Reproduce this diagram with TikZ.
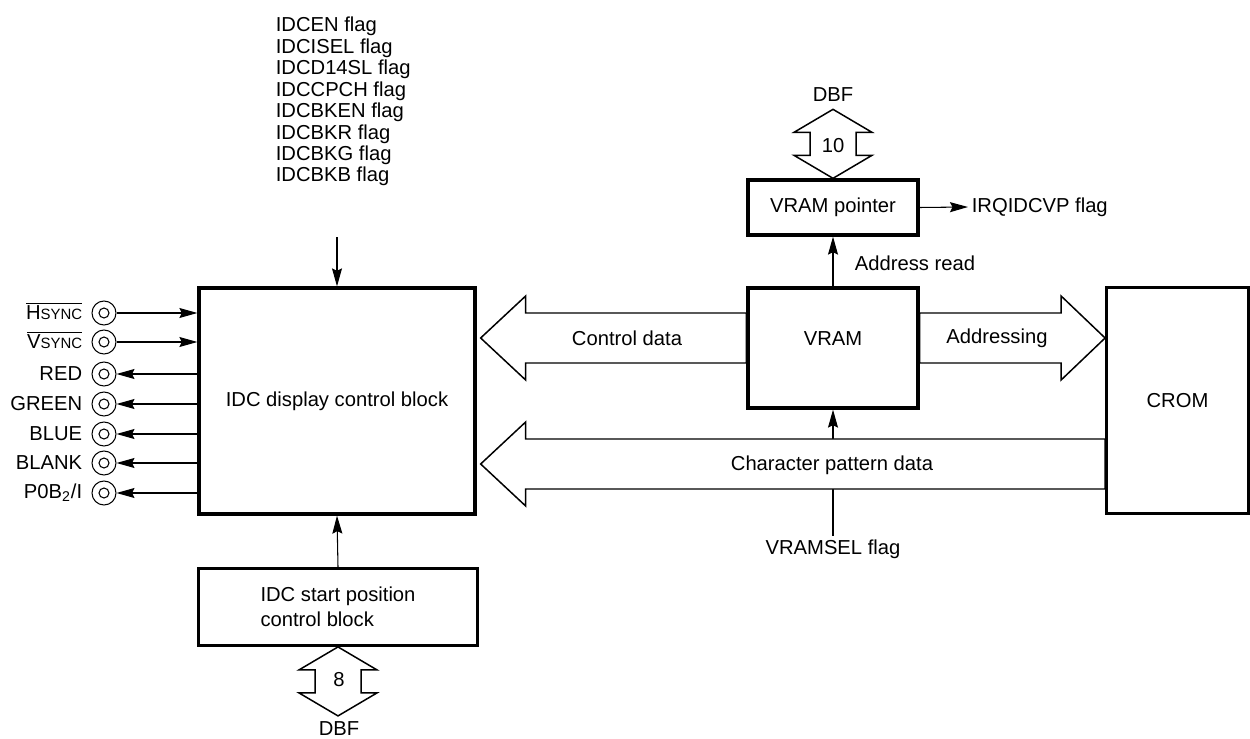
\documentclass[tikz,border=0pt]{standalone}
\usepackage{fontspec}
\setmainfont{Liberation Sans}
\usetikzlibrary{arrows.meta, positioning, calc}

\begin{document}
\begin{tikzpicture}[x=0.02cm, y=-0.02cm,
  blk/.style={rectangle, draw, line width=1.9pt,
    font=\fontsize{11.5pt}{14.2pt}\selectfont, inner sep=0pt},
  txt/.style={font=\fontsize{11.5pt}{12.2pt}\selectfont, inner sep=2pt},
  pin/.style={circle, draw, line width=0.6pt, minimum size=0.48cm, inner sep=0pt},
  arr/.style={-{Stealth[length=0.36cm, width=0.2cm, inset=0.05cm]}, line width=0.6pt},
  bus/.style={draw, fill=white, line width=0.85pt, line join=miter}
]
\useasboundingbox (0,0) rectangle (1250,739);
% blocks
\node[blk, minimum width=5.52cm, minimum height=4.52cm] at (337,401)     (idc)   {IDC display control block};
\node[blk, minimum width=5.58cm, minimum height=1.53cm,
      align=left]                                      at (338,607)     (start) {IDC start position\\control block};
\node[blk, minimum width=3.4cm,  minimum height=1.1cm]  at (833,207.5)   (ptr)   {VRAM pointer};
\node[blk, minimum width=3.4cm,  minimum height=2.4cm]  at (833,348)     (vram)  {};
\node[txt]                                             at (833,339)     (vramtxt) {VRAM};
\node[blk, minimum width=2.83cm, minimum height=4.52cm] at (1177.5,400.3) (crom)  {CROM};
% flags
\node[txt, align=left, anchor=west] at (272,101.7) (flags)
  {IDCEN flag\\IDCISEL flag\\IDCD14SL flag\\IDCCPCH flag\\IDCBKEN flag\\IDCBKR flag\\IDCBKG flag\\IDCBKB flag};
\coordinate (flagin) at ($(idc.north)+(0,-49)$);
\draw[arr] (flagin) -- (idc.north);
% pins
\node[pin] at (104,313) (hs)    {};
\node[pin] at (104,342) (vs)    {};
\node[pin] at (104,374) (red)   {};
\node[pin] at (104,404) (green) {};
\node[pin] at (104,434) (blue)  {};
\node[pin] at (104,463) (blank) {};
\node[pin] at (104,493) (pob)   {};
\foreach \p in {hs,vs,red,green,blue,blank,pob}
  \draw[line width=0.6pt] (\p) circle (0.1cm);
\node[txt, anchor=east] at (86,311) (hslbl)    {$\overline{\hbox{H{\fontsize{8.5pt}{9pt}\selectfont SYNC}}}$};
\node[txt, anchor=east] at (86,340) (vslbl)    {$\overline{\hbox{V{\fontsize{8.5pt}{9pt}\selectfont SYNC}}}$};
\node[txt, anchor=east] at (86,374) (redlbl)   {RED};
\node[txt, anchor=east] at (86,404) (greenlbl) {GREEN};
\node[txt, anchor=east] at (86,434) (bluelbl)  {BLUE};
\node[txt, anchor=east] at (86,463) (blanklbl) {BLANK};
\node[txt, anchor=east] at (86,493) (poblbl)   {P0B\textsubscript{2}/I};
\draw[arr] (hs.east) -- (hs.east -| idc.west);
\draw[arr] (vs.east) -- (vs.east -| idc.west);
\draw[arr] (idc.west |- red)   -- (red.east);
\draw[arr] (idc.west |- green) -- (green.east);
\draw[arr] (idc.west |- blue)  -- (blue.east);
\draw[arr] (idc.west |- blank) -- (blank.east);
\draw[arr] (idc.west |- pob)   -- (pob.east);
% start position block
\draw[arr] (start.north) -- (idc.south);
\draw[bus] (start.south) -- ++(-39,23) -- ++(16,0) -- ++(0,23) -- ++(-16,0) -- ++(39,23)
  -- ++(39,-23) -- ++(-16,0) -- ++(0,-23) -- ++(16,0) -- cycle;
\node[txt] at (339,680) (eight) {8};
\node[txt] at (339,729) (dbfa)  {DBF};
% VRAM pointer
\draw[bus] (ptr.north) -- ++(-39,-23) -- ++(16,0) -- ++(0,-23) -- ++(-16,0) -- ++(39,-23)
  -- ++(39,23) -- ++(-16,0) -- ++(0,23) -- ++(16,0) -- cycle;
\node[txt] at (833,146) (ten)  {10};
\node[txt] at (833,95)  (dbfb) {DBF};
\node[txt, anchor=west] at (968,207) (irq) {IRQIDCVP flag};
\draw[arr] (ptr.east) -- (irq.west);
\draw[arr] (vram.north) -- (ptr.south);
\node[txt, anchor=west] at (851,263) (addr) {Address read};
% VRAMSEL
\node[txt] at (833,549) (vsel) {VRAMSEL flag};
\draw[arr] (vsel.north) -- (vram.south);
% wide buses
\coordinate (row1) at (0,338);
\coordinate (row2) at (0,464);
\draw[bus] ($(idc.east |- row1)+(4,0)$) -- ++(45,-42) -- ++(0,17) -- ($(vram.west |- row1)+(0,-25)$)
  -- ($(vram.west |- row1)+(0,25)$) -- ($(idc.east |- row1)+(49,25)$) -- ++(0,17) -- cycle;
\node[txt] at (627,338) (ctl) {Control data};
\draw[bus] (crom.west |- row1) -- ++(-44,-42) -- ++(0,17) -- ($(vram.east |- row1)+(0,-25)$)
  -- ($(vram.east |- row1)+(0,25)$) -- ($(crom.west |- row1)+(-44,25)$) -- ++(0,17) -- cycle;
\node[txt] at (997,338) (adr) {Addressing};
\draw[bus] ($(idc.east |- row2)+(4,0)$) -- ++(45,-42) -- ++(0,17) -- ($(crom.west |- row2)+(0,-25)$)
  -- ($(crom.west |- row2)+(0,25)$) -- ($(idc.east |- row2)+(49,25)$) -- ++(0,17) -- cycle;
\node[txt] at (832,465) (chr) {Character pattern data};
\end{tikzpicture}
\end{document}
